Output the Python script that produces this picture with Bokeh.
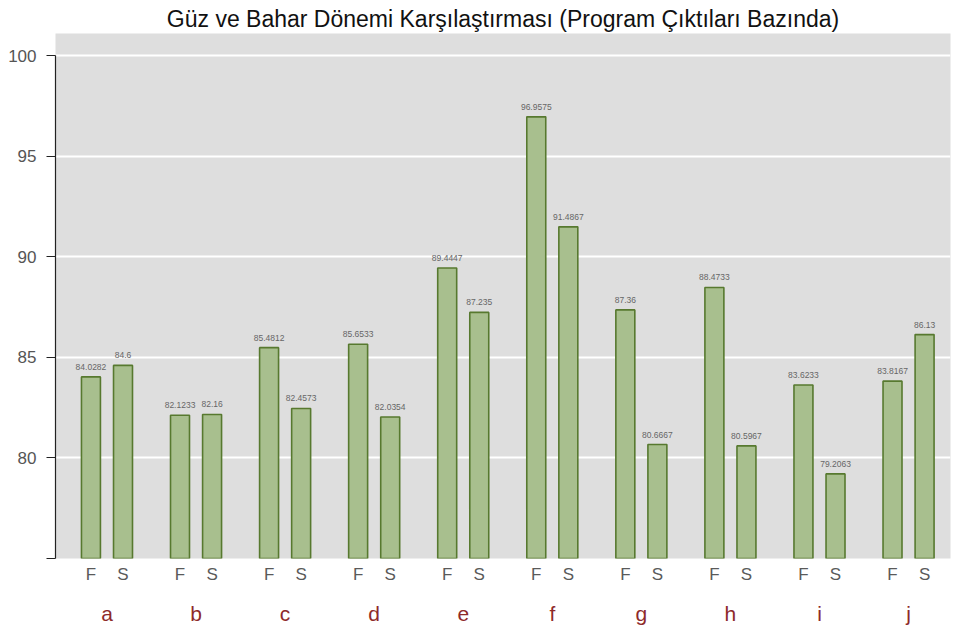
from bokeh.plotting import figure
from bokeh.models import Range1d, LinearAxis, FixedTicker, ColumnDataSource, Title
from bokeh.embed import file_html
from bokeh.resources import INLINE
from bokeh.core.properties import value

groups = ["a", "b", "c", "d", "e", "f", "g", "h", "i", "j"]
sub_labels = ["F", "S"]
fall = [84.0282, 82.1233, 85.4812, 85.6533, 89.4447, 96.9575, 87.36, 88.4733, 83.6233, 83.8167]
spring = [84.6, 82.16, 82.4573, 82.0354, 87.235, 91.4867, 80.6667, 80.5967, 79.2063, 86.13]
fall_text = ["84.0282", "82.1233", "85.4812", "85.6533", "89.4447", "96.9575", "87.36", "88.4733", "83.6233", "83.8167"]
spring_text = ["84.6", "82.16", "82.4573", "82.0354", "87.235", "91.4867", "80.6667", "80.5967", "79.2063", "86.13"]
y_ticks = [75, 80, 85, 90, 95, 100]
y_base = 75

OFF = 0.18
BW = 0.213
FONT = "Liberation Sans"

xs_f = [i - OFF for i in range(len(groups))]
xs_s = [i + OFF for i in range(len(groups))]

p = figure(width=953, height=628, output_backend="svg", toolbar_location=None,
           x_range=Range1d(-0.578, 9.471), y_range=Range1d(75, 101.1),
           x_axis_location=None, y_axis_location=None,
           min_border_left=55, min_border_right=3, min_border_top=33, min_border_bottom=70)
p.background_fill_color = "#dedede"
p.border_fill_color = "white"
p.outline_line_color = None

p.title = Title(text="Güz ve Bahar Dönemi Karşılaştırması (Program Çıktıları Bazında)",
                align="center", text_font=FONT, text_font_size="23px",
                text_font_style="normal", text_color="#111111", standoff=4, offset=0)

src_f = ColumnDataSource(dict(x=xs_f, top=fall, t=fall_text))
src_s = ColumnDataSource(dict(x=xs_s, top=spring, t=spring_text))
for src in (src_f, src_s):
    p.vbar(x="x", top="top", bottom=y_base, width=BW, source=src,
           fill_color="#a8bf8e", line_color="#57792f", line_width=1.6)
    p.text(x="x", y="top", text="t", source=src, text_align="center",
           text_baseline="bottom", y_offset=-7, text_font=value(FONT),
           text_font_size="8.5px", text_color="#666666")

# y axis
yax = LinearAxis(ticker=FixedTicker(ticks=y_ticks), bounds=(75, 100))
yax.major_label_overrides = {75: ""}
yax.major_label_text_font = FONT
yax.major_label_text_font_size = "17px"
yax.major_label_text_color = "#555555"
yax.axis_line_color = "#222222"
yax.axis_line_width = 1.2
yax.major_tick_line_color = "#222222"
yax.major_tick_out = 9
yax.major_tick_in = 0
yax.minor_tick_line_color = None
yax.major_label_standoff = 10
p.add_layout(yax, "left")

# F / S axis
sub_pos = []
for i in range(len(groups)):
    sub_pos += [i - OFF, i + OFF]
sub_over = {}
for i in range(len(groups)):
    sub_over[i - OFF] = sub_labels[0]
    sub_over[i + OFF] = sub_labels[1]
xax1 = LinearAxis(ticker=FixedTicker(ticks=sub_pos), major_label_overrides=sub_over)
xax1.axis_line_color = None
xax1.major_tick_line_color = None
xax1.minor_tick_line_color = None
xax1.major_label_text_font = FONT
xax1.major_label_text_font_size = "17px"
xax1.major_label_text_color = "#5a5a5a"
xax1.major_label_standoff = 0
p.add_layout(xax1, "below")

# group axis
grp_over = {i: g for i, g in enumerate(groups)}
xax2 = LinearAxis(ticker=FixedTicker(ticks=list(range(len(groups)))), major_label_overrides=grp_over)
xax2.axis_line_color = None
xax2.major_tick_line_color = None
xax2.minor_tick_line_color = None
xax2.major_label_text_font = FONT
xax2.major_label_text_font_size = "21px"
xax2.major_label_text_color = "#8e2a2a"
xax2.major_label_standoff = 9
p.add_layout(xax2, "below")

p.xgrid.visible = False
p.ygrid.ticker = FixedTicker(ticks=y_ticks)
p.ygrid.grid_line_color = "white"
p.ygrid.grid_line_width = 2

open("out.html", "w").write(file_html(p, INLINE))
